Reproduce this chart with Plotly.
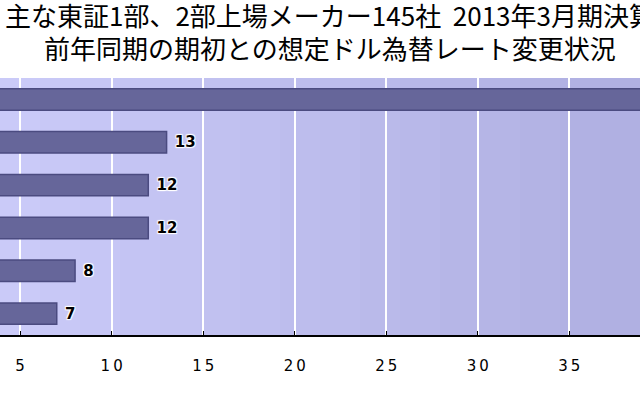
"""
想定ドル為替レート変更状況 - 横棒グラフ (Plotly)
"""

import plotly.graph_objects as go

# データ
categories = ["区分1", "区分2", "区分3", "区分4", "区分5", "区分6"]
companies = [39, 13, 12, 12, 8, 7]
tick_values = [5, 10, 15, 20, 25, 30, 35, 40]
tick_labels = ["5", "1\u20090", "1\u20095", "2\u20090", "2\u20095", "3\u20090", "3\u20095", "4\u20090"]

title_line1 = "主な東証1部、2部上場メーカー145社  2013年3月期決算"
title_line2 = "前年同期の期初との想定ドル為替レート変更状況"

W, H = 640, 400
M_T, M_B = 78, 65

fig = go.Figure()

fig.add_trace(
    go.Bar(
        y=categories,
        x=companies,
        orientation="h",
        width=0.5,
        marker=dict(color="#66669a", line=dict(color="#4b4b80", width=1.5)),
        text=[" " + str(v) for v in companies],
        textposition="outside",
        cliponaxis=False,
        textfont=dict(
            family="DejaVu Sans", size=15, color="black", weight="bold",
            shadow="1px 1px 1px white, -1px -1px 1px white, 1px -1px 1px white, -1px 1px 1px white",
        ),
        showlegend=False,
    )
)

# 背景のグラデーション (左が明るい)
steps = 16
for i in range(steps):
    t = i / (steps - 1)
    r = int(202 - 26 * t)
    g = int(202 - 26 * t)
    b = int(248 - 22 * t)
    fig.add_shape(
        type="rect", xref="paper", yref="paper",
        x0=i / steps, x1=(i + 1) / steps, y0=0, y1=1,
        fillcolor=f"rgb({r},{g},{b})", line=dict(width=0), layer="below",
    )


def py(px_from_top):
    # ピクセル位置 -> paper 座標
    return (H - M_B - px_from_top) / (H - M_T - M_B)


# タイトル (2行)
fig.add_annotation(
    text=title_line1, xref="paper", yref="paper", x=330 / W, y=py(14),
    xanchor="center", yanchor="middle", showarrow=False,
    font=dict(family="Noto Sans CJK JP", size=26, color="black"),
)
fig.add_annotation(
    text=title_line2, xref="paper", yref="paper", x=330 / W, y=py(47),
    xanchor="center", yanchor="middle", showarrow=False,
    font=dict(family="Noto Sans CJK JP", size=26, color="black"),
)

fig.update_layout(
    width=W,
    height=H,
    margin=dict(l=0, r=0, t=M_T, b=M_B),
    paper_bgcolor="white",
    plot_bgcolor="#c4c4f0",
    bargap=0.5,
)

fig.update_xaxes(
    range=[3.9, 38.86],
    tickvals=tick_values,
    ticktext=tick_labels,
    showgrid=True,
    gridcolor="white",
    gridwidth=2,
    zeroline=False,
    showline=True,
    linecolor="black",
    linewidth=2,
    ticks="inside",
    ticklen=4,
    tickcolor="black",
    tickfont=dict(family="DejaVu Sans", size=15, color="black"),
    ticklabelstandoff=16,
    automargin=False,
)

fig.update_yaxes(
    autorange="reversed",
    showticklabels=False,
    showgrid=False,
    zeroline=False,
    showline=False,
    automargin=False,
)

fig.write_html(
    "out.html",
    config={"displayModeBar": False},
    post_script="document.body.style.margin='0px';",
)
